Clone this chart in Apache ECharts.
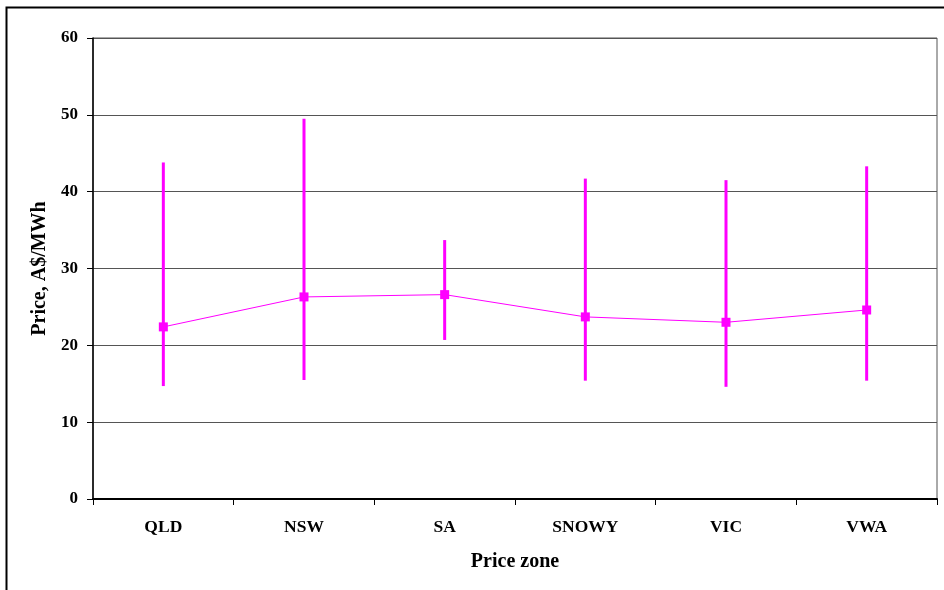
<!DOCTYPE html>
<html>
<head>
<meta charset="utf-8">
<script src="https://cdn.jsdelivr.net/npm/echarts@6/dist/echarts.min.js"></script>
<style>
  html, body { margin: 0; padding: 0; background: #fff; }
  #chart { width: 944px; height: 590px; }
</style>
</head>
<body>
<div id="chart"></div>
<script>
// Price zones and price statistics (A$/MWh)
const zones = ['QLD', 'NSW', 'SA', 'SNOWY', 'VIC', 'VWA'];
const avgPrice = [22.4, 26.3, 26.6, 23.7, 23.0, 24.6];
const lowPrice = [14.7, 15.5, 20.7, 15.4, 14.6, 15.4];
const highPrice = [43.8, 49.5, 33.7, 41.7, 41.5, 43.3];
const yTicks = [0, 10, 20, 30, 40, 50, 60];

const MAGENTA = '#FF00FF';
const FONT = '"Liberation Serif", "Times New Roman", serif';

const rangeData = zones.map((z, i) => [i, lowPrice[i], highPrice[i]]);

const chart = echarts.init(document.getElementById('chart'), null, { renderer: 'canvas' });

chart.setOption({
  animation: false,
  backgroundColor: '#fff',
  graphic: [
    // outer chart frame
    {
      type: 'rect',
      shape: { x: 6.5, y: 7.5, width: 1000, height: 1000 },
      style: { fill: 'none', stroke: '#000', lineWidth: 2 },
      silent: true,
      z: 0
    }
  ],
  grid: {
    left: 93, top: 38, right: 7, bottom: 91,
    show: true,
    borderColor: '#555',
    borderWidth: 1,
    backgroundColor: 'transparent'
  },
  xAxis: {
    type: 'category',
    data: zones,
    boundaryGap: true,
    name: 'Price zone',
    nameLocation: 'middle',
    nameGap: 53,
    nameTextStyle: { fontFamily: FONT, fontWeight: 'bold', fontSize: 20, color: '#000' },
    axisLine: { lineStyle: { color: '#000', width: 2 } },
    axisTick: { show: true, alignWithLabel: false, length: 6, lineStyle: { color: '#000', width: 1 } },
    axisLabel: { fontFamily: FONT, fontWeight: 'bold', fontSize: 17.5, color: '#000', margin: 19 },
    splitLine: { show: false }
  },
  yAxis: {
    type: 'value',
    min: yTicks[0],
    max: yTicks[yTicks.length - 1],
    interval: 10,
    name: 'Price, A$/MWh',
    nameLocation: 'middle',
    nameGap: 43,
    nameRotate: 90,
    nameTextStyle: { fontFamily: FONT, fontWeight: 'bold', fontSize: 20, color: '#000' },
    axisLine: { show: true, lineStyle: { color: '#000', width: 1.5 } },
    axisTick: { show: true, inside: false, length: 6, lineStyle: { color: '#000' } },
    axisLabel: { fontFamily: FONT, fontWeight: 'bold', fontSize: 17, color: '#000', margin: 15 },
    splitLine: { show: true, lineStyle: { color: '#555', width: 1 } }
  },
  series: [
    {
      type: 'custom',
      name: 'Range',
      data: rangeData,
      encode: { x: 0, y: [1, 2] },
      z: 3,
      renderItem: function (params, api) {
        const x = api.value(0);
        const lo = api.coord([x, api.value(1)]);
        const hi = api.coord([x, api.value(2)]);
        return {
          type: 'line',
          shape: { x1: lo[0], y1: lo[1], x2: hi[0], y2: hi[1] },
          style: { stroke: MAGENTA, lineWidth: 3 }
        };
      }
    },
    {
      type: 'line',
      name: 'Average',
      data: avgPrice,
      z: 4,
      symbol: 'rect',
      symbolSize: 9,
      itemStyle: { color: MAGENTA },
      lineStyle: { color: MAGENTA, width: 1 }
    }
  ]
});
</script>
</body>
</html>
